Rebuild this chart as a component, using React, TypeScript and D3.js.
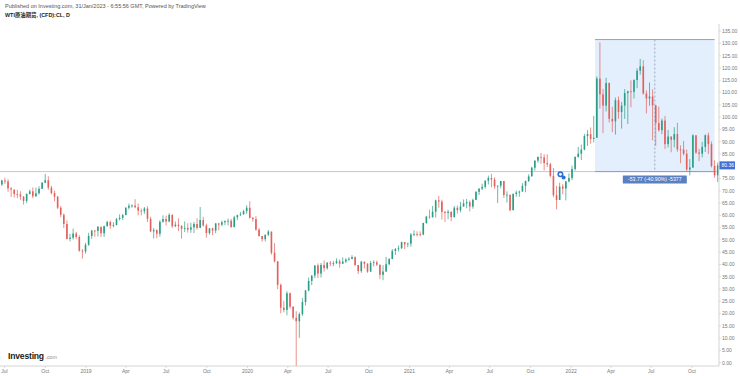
import React from "react";
import * as d3 from "d3";

// ---- Weekly OHLC (open = previous close), week starting Monday 2018-06-25 ----
const firstOpen = 72.6;
const close2018 = [74.2, 73.8, 71.0, 70.5, 68.7, 68.5, 67.6, 65.9, 68.7, 69.8, 67.8, 69.0, 70.8, 73.3, 74.3, 71.3, 69.1, 67.6, 63.1, 60.2, 56.5, 50.4, 50.9, 52.6, 51.2, 45.6, 45.3, 48.0];
const high2018 = [74.5, 75.3, 74.7, 71.5, 70.4, 70.4, 69.8, 67.9, 69.0, 70.5, 71.4, 71.3, 71.8, 73.5, 76.9, 75.9, 72.0, 70.1, 67.9, 63.8, 60.8, 57.9, 52.5, 54.6, 53.3, 51.9, 46.3, 48.8];
const low2018 = [72.0, 72.8, 69.6, 67.5, 67.3, 67.0, 66.3, 64.4, 65.0, 68.5, 67.0, 67.5, 68.5, 70.8, 73.1, 70.4, 68.5, 65.7, 62.5, 59.3, 54.8, 50.2, 49.4, 50.1, 50.3, 45.2, 42.4, 44.4];

const close2019 = [51.6, 53.8, 53.7, 55.3, 52.7, 55.6, 57.3, 55.8, 56.1, 58.5, 59.0, 60.1, 63.1, 63.9, 64.0, 63.3, 61.9, 61.7, 62.8, 58.6, 53.5, 54.0, 52.5, 57.4, 58.5, 57.5, 60.2, 55.6, 56.2, 55.7, 54.5, 54.9, 54.2, 55.1, 56.5, 54.9, 58.1, 55.9, 52.8, 54.7, 53.8, 56.7, 56.2, 57.2, 57.7, 57.8, 55.2, 59.2, 60.1, 60.4, 61.7, 63.1];
const high2019 = [52.9, 54.1, 54.0, 55.7, 55.4, 55.8, 57.8, 57.9, 57.2, 58.9, 60.4, 60.6, 63.3, 64.8, 64.5, 66.6, 64.8, 62.8, 63.4, 63.7, 59.4, 54.8, 54.3, 58.0, 60.0, 59.9, 60.9, 60.4, 57.5, 58.8, 56.0, 57.5, 56.8, 57.0, 57.3, 58.8, 63.4, 59.4, 56.6, 54.8, 55.0, 56.9, 56.9, 57.9, 57.9, 58.7, 58.6, 59.8, 60.3, 61.4, 62.3, 64.1];
const low2019 = [47.6, 50.4, 51.3, 51.4, 51.2, 51.2, 55.4, 54.5, 55.1, 55.9, 57.9, 58.1, 60.2, 62.4, 63.1, 62.9, 60.0, 60.0, 60.6, 57.3, 53.2, 50.6, 50.7, 51.3, 57.0, 55.9, 57.2, 54.9, 55.2, 53.6, 50.5, 53.2, 53.0, 52.9, 52.8, 54.2, 57.6, 55.4, 50.9, 52.1, 51.9, 52.7, 53.9, 55.6, 56.0, 55.9, 55.0, 55.4, 58.1, 59.8, 60.3, 60.6];

const close2020 = [59.0, 58.5, 54.2, 51.6, 50.3, 52.1, 53.4, 44.8, 41.3, 31.7, 22.4, 21.5, 28.3, 22.8, 18.3, 16.9, 19.8, 24.7, 29.4, 33.3, 35.5, 39.6, 36.3, 39.8, 38.5, 40.7, 40.6, 40.6, 41.3, 40.3, 41.2, 42.0, 42.3, 43.0, 39.8, 37.3, 41.1, 40.3, 37.1, 40.6, 40.9, 39.9, 35.8, 37.1, 40.1, 42.2, 45.5, 46.3, 46.6, 49.1, 48.2, 48.5];
const high2020 = [65.7, 59.3, 59.7, 54.8, 51.6, 52.2, 54.0, 53.3, 48.7, 36.4, 32.2, 25.2, 29.1, 28.5, 23.0, 21.0, 20.5, 26.3, 29.6, 34.7, 35.6, 39.7, 40.4, 40.6, 41.6, 41.0, 41.4, 41.4, 42.5, 42.1, 42.9, 42.6, 43.0, 43.8, 43.3, 39.8, 41.5, 41.2, 40.5, 41.4, 41.7, 41.6, 39.9, 39.7, 43.1, 42.6, 46.3, 46.7, 47.7, 49.3, 49.1, 48.9];
const low2020 = [58.7, 57.4, 53.7, 51.3, 49.3, 49.4, 51.6, 44.0, 40.8, 30.0, 20.1, 20.5, 19.3, 22.0, 17.5, -2.0, 10.1, 19.0, 23.3, 29.1, 31.6, 34.4, 34.5, 34.7, 37.1, 37.9, 39.3, 39.3, 40.2, 38.7, 40.2, 40.6, 41.5, 42.1, 39.3, 36.1, 36.6, 38.4, 36.6, 37.0, 39.2, 39.4, 34.0, 33.6, 37.8, 39.7, 42.4, 43.9, 45.3, 46.4, 46.2, 47.0];

const close2021 = [52.2, 52.4, 52.3, 52.2, 56.9, 59.5, 59.2, 61.5, 66.1, 65.6, 61.4, 61.0, 61.5, 59.3, 63.1, 62.1, 63.6, 64.9, 65.4, 63.6, 66.3, 69.6, 70.9, 71.6, 74.1, 75.2, 74.6, 71.8, 72.1, 74.0, 68.3, 68.4, 62.1, 68.7, 69.3, 69.7, 72.0, 74.0, 75.9, 79.4, 82.3, 83.8, 83.6, 81.3, 80.8, 76.1, 68.2, 66.3, 71.7, 70.9, 73.8, 75.2];
const high2021 = [52.8, 53.9, 53.5, 53.5, 57.0, 59.8, 62.3, 63.8, 66.4, 67.9, 66.4, 61.8, 62.3, 61.0, 63.8, 64.0, 65.5, 66.5, 66.7, 66.1, 66.8, 69.8, 71.0, 72.9, 74.3, 76.2, 76.9, 75.5, 72.1, 74.0, 73.5, 69.8, 68.4, 69.0, 70.1, 70.1, 73.1, 74.2, 76.7, 79.8, 82.4, 84.0, 85.4, 84.9, 84.9, 81.4, 79.3, 72.0, 73.3, 72.7, 74.0, 77.1];
const low2021 = [47.2, 51.5, 51.4, 51.4, 51.9, 56.6, 58.6, 59.4, 59.1, 63.1, 58.3, 57.3, 58.4, 57.6, 59.1, 60.7, 61.2, 63.5, 62.9, 61.6, 62.7, 66.3, 68.3, 70.3, 70.9, 72.6, 71.4, 70.8, 65.0, 71.0, 67.1, 65.2, 61.7, 62.3, 67.6, 67.6, 69.9, 69.4, 73.6, 75.8, 78.2, 81.4, 81.0, 78.3, 79.7, 75.4, 67.4, 62.4, 68.7, 68.6, 66.1, 73.4];

const close2022 = [78.9, 83.8, 85.1, 86.8, 92.3, 93.1, 91.1, 91.6, 115.7, 109.3, 104.7, 113.9, 99.3, 98.3, 106.9, 102.1, 104.7, 109.8, 110.5, 110.3, 115.1, 118.9, 120.7, 109.6, 107.6, 108.4, 104.8, 97.6, 94.7, 98.6, 89.0, 92.1, 90.8, 93.1, 86.9, 86.8, 85.1, 78.7, 79.5, 92.6, 85.6, 85.1, 87.9, 92.6, 89.0, 80.1, 76.3, 80.36];
const high2022 = [80.2, 84.0, 87.9, 88.8, 93.2, 94.7, 95.8, 100.5, 116.6, 130.5, 111.5, 116.0, 114.1, 104.2, 108.0, 108.4, 106.2, 111.4, 110.8, 115.0, 115.4, 119.9, 123.7, 123.2, 110.9, 114.1, 111.3, 104.9, 104.3, 99.4, 100.5, 94.8, 92.1, 95.9, 97.7, 88.5, 90.3, 86.8, 82.9, 93.0, 92.2, 87.1, 89.9, 93.0, 93.7, 90.1, 82.4, 81.5];
const low2022 = [74.3, 78.2, 83.5, 82.5, 86.5, 88.3, 89.2, 89.7, 95.5, 103.5, 93.5, 102.3, 97.8, 93.9, 92.9, 99.3, 95.3, 99.3, 97.2, 104.0, 107.6, 111.8, 117.3, 109.2, 101.5, 104.6, 90.6, 88.3, 94.1, 93.1, 87.0, 87.6, 85.7, 87.7, 85.9, 81.2, 84.4, 78.1, 76.3, 79.3, 85.0, 82.1, 83.6, 85.8, 85.0, 79.5, 75.3, 73.6];

const xTickLabels = ["Jul", "Oct", "2019", "Apr", "Jul", "Oct", "2020", "Apr", "Jul", "Oct", "2021", "Apr", "Jul", "Oct", "2022", "Apr", "Jul", "Oct"];
const yTickValues = d3.range(0, 136, 5);

const lastPrice = 80.36;
const measureStartPrice = 131.6;
const measureEndPrice = 77.83;
const measureStartDate = new Date(Date.UTC(2022, 1, 24));
const measureEndDate = new Date(Date.UTC(2022, 10, 21));
const measureText = "-53.77 (-40.90%) -5377";
const markerDate = new Date(Date.UTC(2021, 11, 10));
const markerPrice = 76.3;

const headerLine1 = "Published on Investing.com, 31/Jan/2023 - 6:55:56 GMT, Powered by TradingView";
const headerLine2 = "WTI原油期货, (CFD):CL, D";

const FONT = "'Liberation Sans', Arial, 'Noto Sans CJK SC', sans-serif";
const UP = "#2a9d84";
const DOWN = "#e2605c";

export default function App() {
  const plotRight = 719;
  const plotBottom = 366;
  const x = d3
    .scaleUtc()
    .domain([new Date(Date.UTC(2018, 6, 1)), new Date(Date.UTC(2022, 9, 1))])
    .range([4.5, 692]);
  const y = d3.scaleLinear().domain([0, 135]).range([362.7, 31.2]);

  const weeks = d3.utcMonday.range(new Date(Date.UTC(2018, 5, 25)), new Date(Date.UTC(2022, 11, 1)));
  const closes = [...close2018, ...close2019, ...close2020, ...close2021, ...close2022];
  const highs = [...high2018, ...high2019, ...high2020, ...high2021, ...high2022];
  const lows = [...low2018, ...low2019, ...low2020, ...low2021, ...low2022];
  const n = Math.min(weeks.length, closes.length, highs.length, lows.length);

  const candles = d3.range(n).map((i) => {
    const o = i === 0 ? firstOpen : closes[i - 1];
    const c = closes[i];
    return {
      date: weeks[i],
      o,
      c,
      h: Math.max(highs[i], o, c),
      l: Math.min(lows[i], o, c),
    };
  });

  const tickDates = d3.utcMonth.every(3)!.range(new Date(Date.UTC(2018, 6, 1)), new Date(Date.UTC(2022, 9, 2)));

  const mx1 = x(measureStartDate);
  const mx2 = x(measureEndDate);
  const my1 = y(measureStartPrice);
  const my2 = y(measureEndPrice);
  const mMid = (mx1 + mx2) / 2;
  const bodyW = 1.6;

  const mkX = x(markerDate);
  const mkY = y(markerPrice);

  return (
    <div style={{ position: "absolute", left: 0, top: 0 }}>
      <svg width={740} height={376} style={{ display: "block", background: "#fff" }} fontFamily={FONT}>
        <defs>
          <clipPath id="plot">
            <rect x={0} y={22} width={plotRight} height={plotBottom - 22} />
          </clipPath>
        </defs>

        {/* header */}
        <text x={5} y={7.6} fontSize={5.5} fill="#555">{headerLine1}</text>
        <text x={5} y={17.2} fontSize={5.4} fontWeight={700} fill="#222">{headerLine2}</text>

        {/* measurement box */}
        <g clipPath="url(#plot)">
          <rect x={mx1} y={my1} width={mx2 - mx1} height={my2 - my1} fill="#e3effc" />
          <line x1={0} x2={plotRight} y1={my2} y2={my2} stroke="#b8bdf0" strokeWidth={0.9} />
          <line x1={mx1} x2={mx2} y1={my1} y2={my1} stroke="#8a98b6" strokeWidth={0.9} />
          <line x1={mx1} x2={mx2} y1={my2} y2={my2} stroke="#8a98b6" strokeWidth={0.9} />
          <line x1={mMid} x2={mMid} y1={my1} y2={my2} stroke="#8a98b6" strokeWidth={0.8} strokeDasharray="2,2" />

          {/* candles */}
          {candles.map((d, i) => {
            const cx = x(d.date);
            const col = d.c >= d.o ? UP : DOWN;
            const yt = y(Math.max(d.o, d.c));
            const yb = y(Math.min(d.o, d.c));
            return (
              <g key={i}>
                <line x1={cx} x2={cx} y1={y(d.h)} y2={y(d.l)} stroke={col} strokeWidth={0.7} />
                <rect x={cx - bodyW / 2} y={yt} width={bodyW} height={Math.max(0.8, yb - yt)} fill={col} />
              </g>
            );
          })}

          {/* marker icon */}
          <circle cx={mkX - 1} cy={mkY - 1} r={3} fill="#2f6ed9" />
          <circle cx={mkX - 1} cy={mkY - 1} r={1.4} fill="#fff" />
          <circle cx={mkX + 2.2} cy={mkY + 2.2} r={2} fill="#2f6ed9" />
        </g>

        {/* measure label */}
        <rect x={mMid - 32} y={my2 + 4} width={64} height={8} fill="#5b80c2" rx={0.5} />
        <text x={mMid} y={my2 + 9.8} fontSize={5.2} fill="#fff" textAnchor="middle">{measureText}</text>

        {/* x axis */}
        <line x1={0} x2={plotRight} y1={plotBottom} y2={plotBottom} stroke="#c9c9c9" strokeWidth={0.8} />
        {tickDates.map((d, i) => (
          <g key={i}>
            <line x1={x(d)} x2={x(d)} y1={plotBottom} y2={plotBottom + 2} stroke="#c9c9c9" strokeWidth={0.6} />
            <text x={x(d)} y={372.6} fontSize={5} fill="#777" textAnchor="middle">{xTickLabels[i]}</text>
          </g>
        ))}

        {/* y axis */}
        <line x1={plotRight} x2={plotRight} y1={24} y2={plotBottom} stroke="#c9c9c9" strokeWidth={0.8} />
        {yTickValues.map((v) => (
          <g key={v}>
            <line x1={plotRight} x2={plotRight + 2} y1={y(v)} y2={y(v)} stroke="#c9c9c9" strokeWidth={0.6} />
            <text x={722} y={y(v) + 1.8} fontSize={5} fill="#777">{d3.format(".2f")(v)}</text>
          </g>
        ))}

        {/* last price label */}
        <rect x={plotRight + 0.5} y={y(lastPrice) - 4} width={15.5} height={8} fill="#3f6fd6" />
        <text x={721.5} y={y(lastPrice) + 1.8} fontSize={5} fill="#fff">{d3.format(".2f")(lastPrice)}</text>

        {/* logo */}
        <text x={8} y={359} fontSize={8.6} fontWeight={700} fill="#1b1b1b" letterSpacing={-0.2}>Investing</text>
        <text x={45.5} y={359} fontSize={5.2} fill="#8a8a8a">
          <tspan fill="#f4a21d" fontWeight={700}>.</tspan>com
        </text>
      </svg>
    </div>
  );
}
